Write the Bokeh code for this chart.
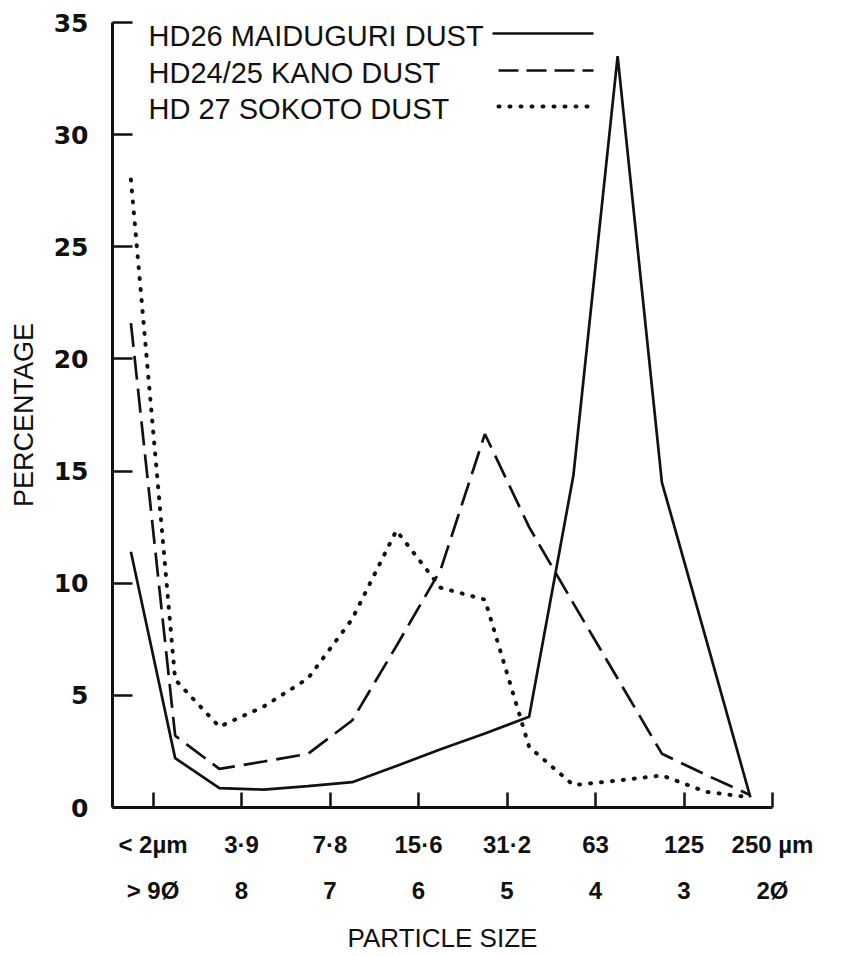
from bokeh.plotting import figure
from bokeh.models import Range1d, LinearAxis, FixedTicker, Label, Arrow
from bokeh.embed import file_html
from bokeh.resources import INLINE

# ---- data ----
phi = [9.25, 8.75, 8.25, 7.75, 7.25, 6.75, 6.25, 5.75, 5.25, 4.75, 4.25, 3.75, 3.25, 2.75, 2.25]
maiduguri = [11.4, 2.2, 0.86, 0.8, 0.95, 1.13, 1.85, 2.6, 3.3, 4.05, 14.8, 33.5, 14.5, 7.5, 0.45]
kano = [21.6, 3.2, 1.72, 2.05, 2.39, 3.88, 7.2, 10.6, 16.65, 12.5, 9.1, 5.75, 2.4, 1.45, 0.55]
sokoto = [28.0, 5.7, 3.6, 4.5, 5.75, 8.4, 12.35, 9.8, 9.27, 2.7, 1.0, 1.2, 1.43, 0.7, 0.45]

tick_phi = [9, 8, 7, 6, 5, 4, 3, 2]
size_labels = ["< 2µm", "3·9", "7·8", "15·6", "31·2", "63", "125", "250 µm"]
phi_labels = ["> 9Ø", "8", "7", "6", "5", "4", "3", "2Ø"]
y_ticks = [0, 5, 10, 15, 20, 25, 30, 35]
series_names = ["HD26  MAIDUGURI DUST", "HD24/25 KANO DUST", "HD 27  SOKOTO DUST"]

INK = "#111111"
FONT = "Liberation Sans"

p = figure(width=846, height=956, output_backend="svg", toolbar_location=None,
           x_range=Range1d(9.458, 2.0), y_range=Range1d(0, 35),
           min_border_left=112, min_border_right=74, min_border_top=22, min_border_bottom=149)
p.outline_line_color = None
p.xgrid.visible = False
p.ygrid.visible = False
p.background_fill_color = "white"
p.border_fill_color = "white"

# bottom axis, row 1 (sizes in micrometres)
ax = p.xaxis[0]
ax.ticker = FixedTicker(ticks=tick_phi)
ax.major_label_overrides = {t: s for t, s in zip(tick_phi, size_labels)}
ax.major_tick_in = 15
ax.major_tick_out = 0
ax.minor_tick_in = 0
ax.minor_tick_out = 0
ax.axis_line_width = 3
ax.axis_line_color = INK
ax.major_tick_line_width = 2.5
ax.major_tick_line_color = INK
ax.major_label_standoff = 23
ax.major_label_text_font = FONT
ax.major_label_text_font_size = "24px"
ax.major_label_text_font_style = "bold"
ax.major_label_text_color = INK

# bottom axis, row 2 (phi units)
ax2 = LinearAxis(ticker=FixedTicker(ticks=tick_phi),
                 major_label_overrides={t: s for t, s in zip(tick_phi, phi_labels)},
                 axis_line_color=None, major_tick_line_color=None, minor_tick_line_color=None,
                 major_label_standoff=10,
                 major_label_text_font=FONT, major_label_text_font_size="24px",
                 major_label_text_font_style="bold", major_label_text_color=INK,
                 axis_label="PARTICLE SIZE", axis_label_standoff=16,
                 axis_label_text_font=FONT, axis_label_text_font_size="26px",
                 axis_label_text_font_style="normal", axis_label_text_color=INK)
p.add_layout(ax2, "below")

# left axis
ay = p.yaxis[0]
ay.ticker = FixedTicker(ticks=y_ticks)
ay.major_tick_in = 20
ay.major_tick_out = 0
ay.minor_tick_in = 0
ay.minor_tick_out = 0
ay.axis_line_width = 3
ay.axis_line_color = INK
ay.major_tick_line_width = 2.5
ay.major_tick_line_color = INK
ay.major_label_standoff = 24
ay.major_label_text_font = "DejaVu Sans"
ay.major_label_text_font_size = "25px"
ay.major_label_text_font_style = "bold"
ay.major_label_text_color = INK
ay.axis_label = "PERCENTAGE"
ay.axis_label_standoff = 12
ay.axis_label_text_font = FONT
ay.axis_label_text_font_size = "27px"
ay.axis_label_text_font_style = "normal"
ay.axis_label_text_color = INK

# series
p.line(phi, maiduguri, line_color=INK, line_width=2.7)
p.line(phi, kano, line_color=INK, line_width=2.7, line_dash="24 9")
p.line(phi, sokoto, line_color=INK, line_width=4, line_dash="1 10", line_cap="round")

# legend: text followed by line sample
rows_y = [772, 735, 699]
dashes = ["solid", "20 8", "1 10"]
widths = [2.5, 2.5, 4]
caps = ["butt", "butt", "round"]
starts = [380, 386, 386]
for name, yy, dsh, w, cap, xs in zip(series_names, rows_y, dashes, widths, caps, starts):
    p.add_layout(Label(x=36, y=yy, x_units="screen", y_units="screen", text=name,
                       text_font=FONT, text_font_size="29px", text_color=INK,
                       text_baseline="middle", text_align="left"))
    p.add_layout(Arrow(start=None, end=None, x_start=xs, y_start=yy + 2, x_end=481, y_end=yy + 2,
                       start_units="screen", end_units="screen",
                       line_color=INK, line_width=w, line_dash=dsh, line_cap=cap))

open("out.html", "w").write(file_html(p, INLINE))
